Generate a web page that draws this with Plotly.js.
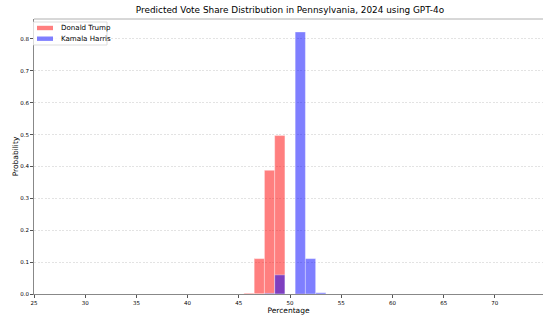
<!DOCTYPE html>
<html><head><meta charset="utf-8">
<script src="https://cdn.plot.ly/plotly-3.0.1.min.js"></script>
<style>html,body{margin:0;padding:0;background:#fff}#c{width:543px;height:316px}</style>
</head><body><div id="c"></div>
<script>
const binCenters = [46, 47, 48, 49, 50, 51, 52, 53];
const trumpProb  = [0.003, 0.111, 0.388, 0.497, 0, 0.001, 0, 0];
const harrisProb = [0, 0, 0.002, 0.060, 0, 0.822, 0.111, 0.004];
const seriesNames = ['Donald Trump', 'Kamala Harris'];
const seriesColors = ['rgba(255,0,0,0.5)', 'rgba(0,0,255,0.5)'];
const xTicks = [25, 30, 35, 40, 45, 50, 55, 60, 65, 70];
const yTicks = [0, 0.1, 0.2, 0.3, 0.4, 0.5, 0.6, 0.7, 0.8];

const W = 543, H = 316, M = {l:34, r:0, t:19, b:22};
const pw = W - M.l - M.r, ph = H - M.t - M.b;
const px = x => (x - M.l) / pw;          // pixel -> paper x
const py = y => (H - M.b - y) / ph;      // pixel -> paper y

const traces = [trumpProb, harrisProb].map((vals, i) => ({
  type:'bar', name:seriesNames[i], x:binCenters, y:vals, width:1, showlegend:false,
  marker:{color:seriesColors[i], line:{width:0.6, color:'rgba(255,255,255,0.6)'}}
}));

const shapes = [
  {type:'line', xref:'paper', yref:'paper', x0:0, x1:1, y0:1, y1:1, line:{color:'#b0b0b0', width:1}},
  {type:'rect', xref:'paper', yref:'paper', x0:px(33.5), x1:px(107), y0:py(22), y1:py(45),
   fillcolor:'rgba(255,255,255,0.8)', line:{color:'#dddddd', width:1}}
];
const annotations = [];
seriesNames.forEach((n, i) => {
  const yc = 28 + i * 10.7;
  shapes.push({type:'rect', xref:'paper', yref:'paper', x0:px(37), x1:px(53), y0:py(yc+2.2), y1:py(yc-2.2),
    fillcolor:seriesColors[i], line:{width:0}});
  annotations.push({xref:'paper', yref:'paper', x:px(58.5), y:py(yc), xanchor:'left', yanchor:'middle',
    text:n, showarrow:false, font:{size:7.1, color:'#000'}});
});

const layout = {
  width:W, height:H, barmode:'overlay',
  margin:M,
  paper_bgcolor:'#fff', plot_bgcolor:'#fff',
  font:{family:'DejaVu Sans', color:'#000'},
  title:{text:'Predicted Vote Share Distribution in Pennsylvania, 2024 using GPT-4o', font:{size:8.9}, x:0.534, xanchor:'center', y:0.98, yanchor:'top'},
  xaxis:{range:[25,74.7], tickvals:xTicks, ticktext:xTicks.map(String), tickfont:{size:5.5}, ticks:'outside', ticklen:3, tickcolor:'#555',
    showgrid:false, zeroline:false, showline:true, linecolor:'#888', linewidth:1,
    title:{text:'Percentage', font:{size:7.5}, standoff:3}},
  yaxis:{range:[0,0.8627], tickvals:yTicks, ticktext:yTicks.map(v=>v.toFixed(1)), tickfont:{size:5.5}, ticks:'outside', ticklen:3, tickcolor:'#555',
    showgrid:true, gridcolor:'#d0d0d0', griddash:'2px,1.5px', gridwidth:0.6, zeroline:false, showline:true, linecolor:'#888', linewidth:1,
    title:{text:'Probability', font:{size:7.5}, standoff:0}},
  shapes, annotations, showlegend:false
};
Plotly.newPlot('c', traces, layout, {staticPlot:true, displayModeBar:false});
</script></body></html>
